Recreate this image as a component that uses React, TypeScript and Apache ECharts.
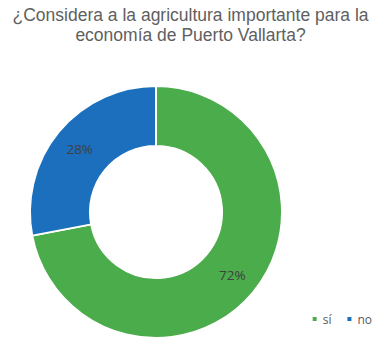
import React, { useEffect, useRef } from "react";
import * as echarts from "echarts";

const titleText = "¿Considera a la agricultura importante para la\neconomía de Puerto Vallarta?";
const categories = ["sí", "no"];
const values = [72, 28];
const colors = ["#4aac4a", "#1c6fbd"];

export default function App() {
  const ref = useRef<HTMLDivElement>(null);
  useEffect(() => {
    const chart = echarts.init(ref.current!, null, { renderer: "svg" });
    chart.setOption({
      animation: false,
      backgroundColor: "#ffffff",
      title: {
        text: titleText,
        left: "center",
        top: 0,
        textStyle: {
          fontFamily: "Liberation Sans, Arial, sans-serif",
          fontSize: 17.5,
          fontWeight: "normal",
          color: "#606060",
          lineHeight: 20,
        },
      },
      legend: {
        data: categories,
        right: 4,
        top: 308,
        itemWidth: 6,
        itemHeight: 6,
        itemGap: 14,
        icon: "rect",
        textStyle: { fontFamily: "Open Sans, sans-serif", fontSize: 12, color: "#595959" },
      },
      series: [
        {
          type: "pie",
          center: [156, 212],
          radius: [66, 126],
          startAngle: 90,
          clockwise: true,
          data: categories.map((c, i) => ({ name: c, value: values[i], itemStyle: { color: colors[i] } })),
          itemStyle: { borderColor: "#ffffff", borderWidth: 2 },
          label: {
            position: "inside",
            formatter: "{c}%",
            fontFamily: "Open Sans, sans-serif",
            fontSize: 13.5,
            color: "#404040",
          },
          labelLine: { show: false },
          emphasis: { disabled: true },
        },
      ],
    });
    return () => chart.dispose();
  }, []);
  return <div ref={ref} style={{ position: "absolute", left: 0, top: 0, width: 381, height: 338 }} />;
}
